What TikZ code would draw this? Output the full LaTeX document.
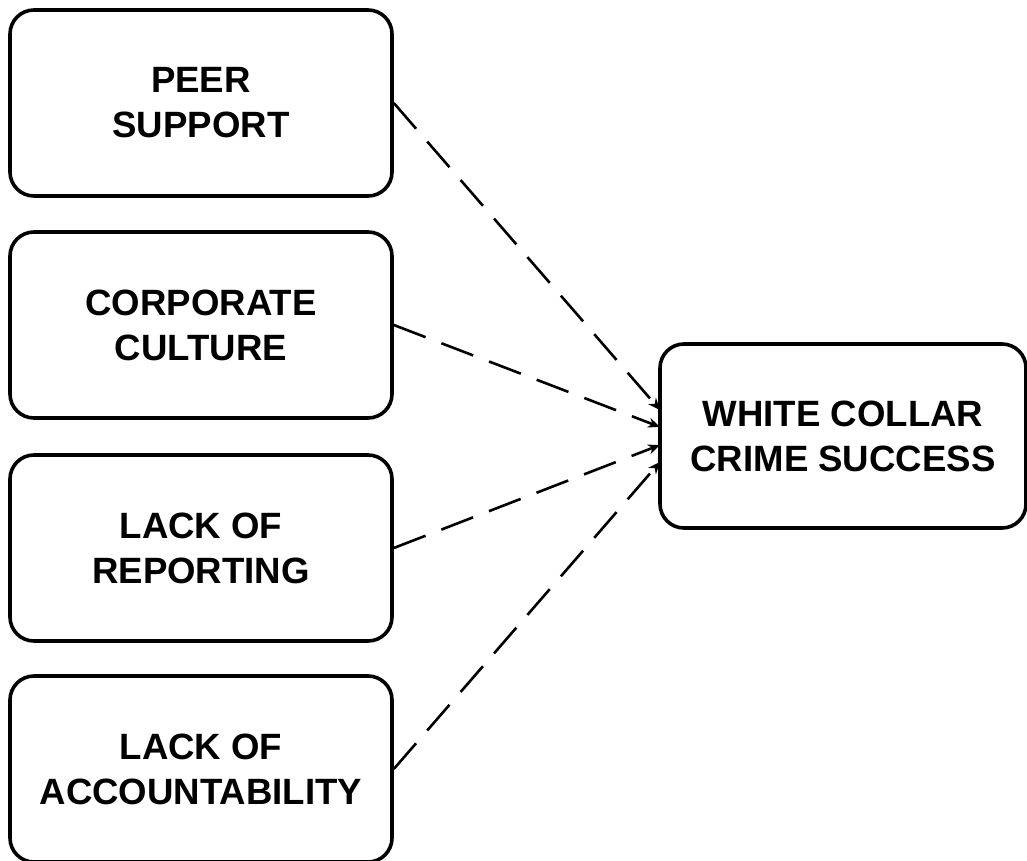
\documentclass[tikz,border=0pt]{standalone}
\usepackage{fontspec}
\setmainfont{Liberation Sans}
\usetikzlibrary{arrows.meta}

\begin{document}
\begin{tikzpicture}[x=0.5pt,y=-0.5pt,
        factor/.style={draw, line width=1.8pt, rounded corners=12pt,
            minimum width=191pt, minimum height=93pt, inner sep=0pt,
            align=center, font=\bfseries\fontsize{18.3}{22.5}\selectfont},
        link/.style={dash pattern=on 17pt off 8.5pt, line width=1.3pt,
            -{Stealth[length=6pt,width=5pt]}}]
            \useasboundingbox (0,0) rectangle (1027,861);
            \node[factor](P) at (201,103) {PEER\\SUPPORT};
            \node[factor](C) at (201,325) {CORPORATE\\CULTURE};
            \node[factor](R) at (201,548) {LACK OF\\REPORTING};
            \node[factor](A) at (201,769) {LACK OF\\ACCOUNTABILITY};
            \node[factor, minimum width=183pt, minimum height=92pt](W) at (843,436) {WHITE COLLAR\\CRIME SUCCESS};
            \coordinate (w1) at (660,410);
            \coordinate (w2) at (660,427);
            \coordinate (w3) at (660,445);
            \coordinate (w4) at (660,462);
            \path
                (P.east) edge [link] (w1)
                (C.east) edge [link] (w2)
                (R.east) edge [link] (w3)
                (A.east) edge [link] (w4)
                ;
        \end{tikzpicture}
\end{document}
